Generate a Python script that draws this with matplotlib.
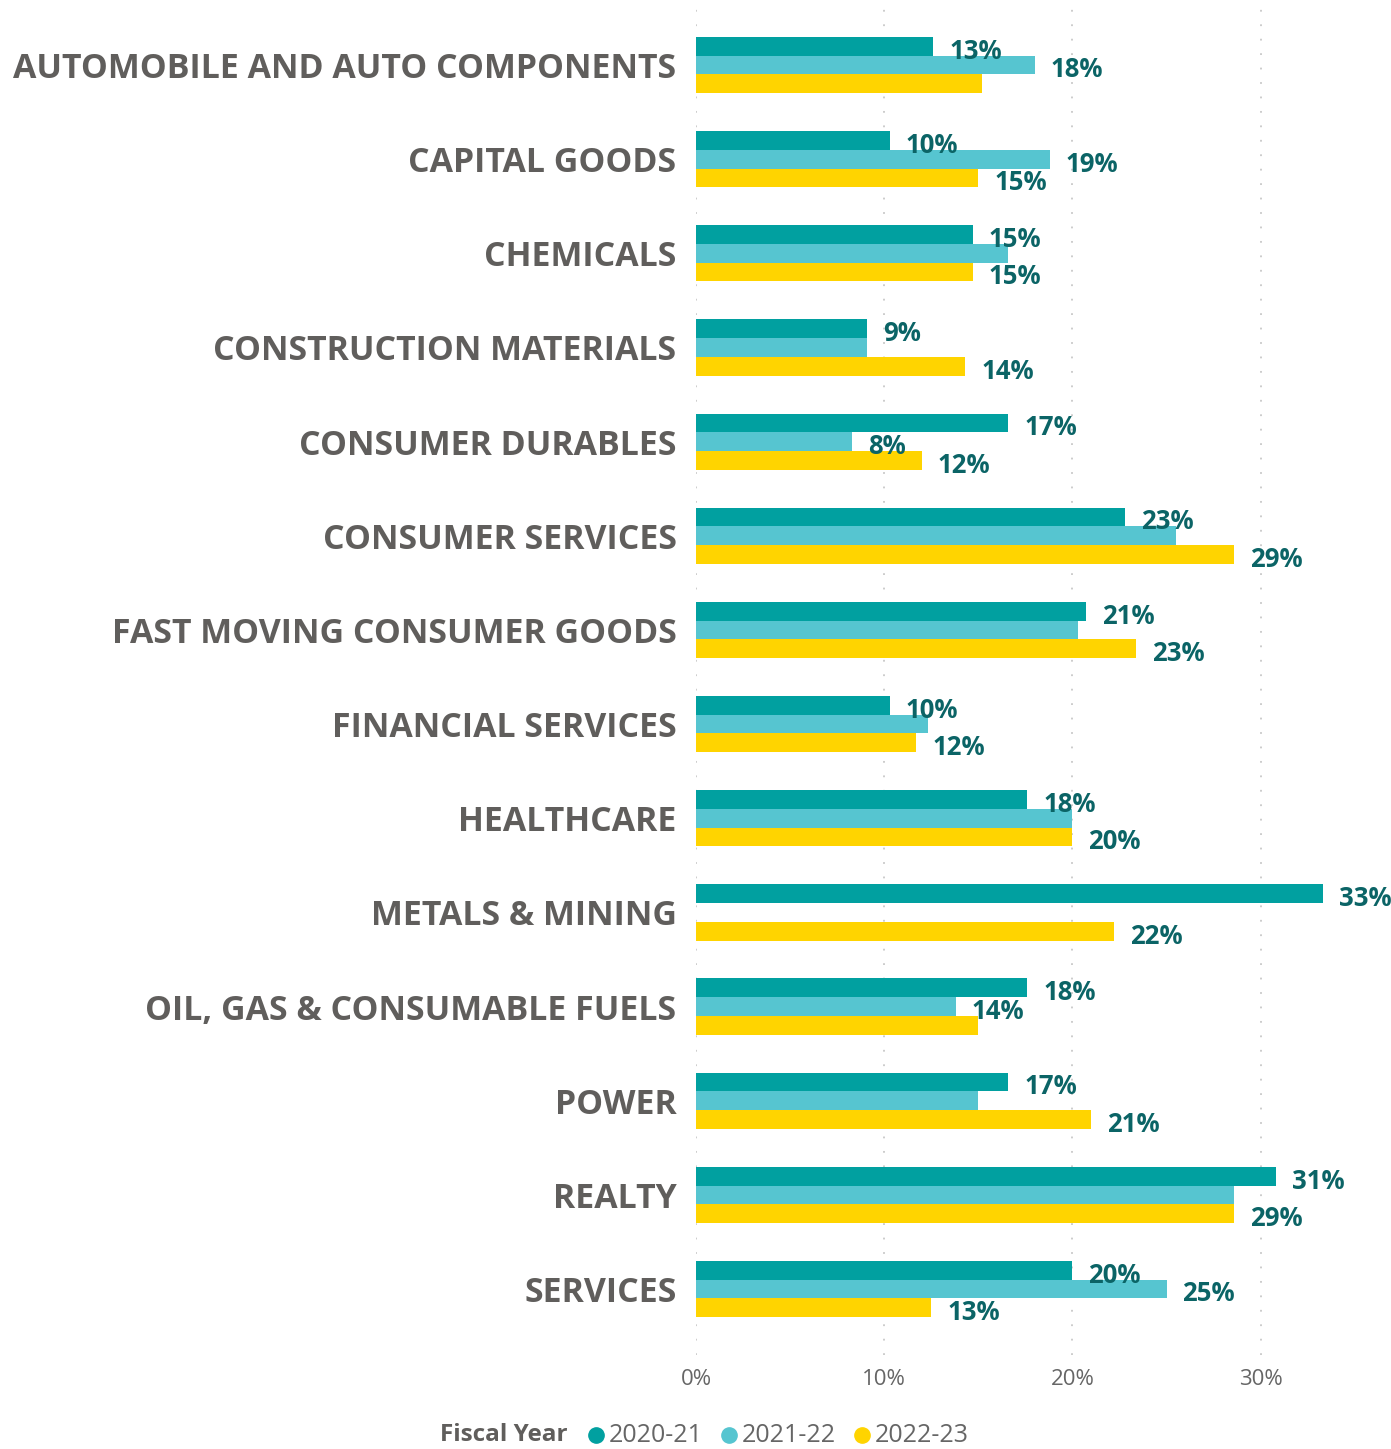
import matplotlib.pyplot as plt
from matplotlib.lines import Line2D
import matplotlib.ticker as mticker
import numpy as np

# ── Data ─────────────────────────────────────────────────────
sectors = [
    "AUTOMOBILE AND AUTO COMPONENTS", "CAPITAL GOODS", "CHEMICALS",
    "CONSTRUCTION MATERIALS", "CONSUMER DURABLES", "CONSUMER SERVICES",
    "FAST MOVING CONSUMER GOODS", "FINANCIAL SERVICES", "HEALTHCARE",
    "METALS & MINING", "OIL, GAS & CONSUMABLE FUELS", "POWER", "REALTY",
    "SERVICES",
]
years = ["2020-21", "2021-22", "2022-23"]

fy21 = [12.6, 10.3, 14.7, 9.1, 16.6, 22.8, 20.7, 10.3, 17.6, 33.3, 17.6, 16.6, 30.8, 20.0]
fy22 = [18.0, 18.8, 16.6, 9.1, 8.3, 25.5, 20.3, 12.3, 20.0, None, 13.8, 15.0, 28.6, 25.0]
fy23 = [15.2, 15.0, 14.7, 14.3, 12.0, 28.6, 23.4, 11.7, 20.0, 22.2, 15.0, 21.0, 28.6, 12.5]

# labels that stay visible (the rest collide with neighbours)
show21 = [1] * 14
show22 = [1, 1, 0, 0, 1, 0, 0, 0, 0, 0, 1, 0, 0, 1]
show23 = [0, 1, 1, 1, 1, 1, 1, 1, 1, 1, 0, 1, 1, 1]

series = [fy21, fy22, fy23]
shown = [show21, show22, show23]
colors = ["#01A0A0", "#56C5D0", "#FFD400"]
label_color = "#0B6466"
text_gray = "#605E5C"

plt.rcParams["font.family"] = ["Open Sans", "DejaVu Sans"]

fig = plt.figure(figsize=(13.91, 14.49), dpi=100)
ax = fig.add_axes([696 / 1391, 1 - 1355 / 1449, (1383 - 696) / 1391, 1350 / 1449])

y = np.arange(len(sectors))
h = 0.199
offsets = [-h, 0, h]

for vals, show, col, off in zip(series, shown, colors, offsets):
    for i, v in enumerate(vals):
        if v is None:
            continue
        ax.barh(y[i] + off, v, height=h, color=col, zorder=3)
        if show[i]:
            ax.annotate(f"{int(v + 0.5)}%", (v, y[i] + off),
                        xytext=(11.5, -3.5), textcoords="offset points",
                        ha="left", va="center", fontsize=18.5,
                        fontweight="bold", color=label_color, zorder=4,
                        annotation_clip=False)

ax.set_xlim(0, 36.5)
ax.set_ylim(13.70, -0.637)
ax.set_xticks([0, 10, 20, 30])
ax.xaxis.set_major_formatter(mticker.FuncFormatter(lambda v, _: f"{v:.0f}%"))
ax.set_yticks(y)
ax.set_yticklabels(sectors, fontsize=24.4, fontweight="bold", color=text_gray)
ax.tick_params(axis="y", length=0, pad=14)
ax.tick_params(axis="x", length=0, pad=10, labelsize=16, labelcolor="#666666")

for gx in [0, 10, 20, 30]:
    ax.axvline(gx, color="#C8C8C8", lw=1.3, ls=(0, (1, 7)), zorder=1)

for s in ax.spines.values():
    s.set_visible(False)

# ── Legend ───────────────────────────────────────────────────
leg_y = 1 - 1435 / 1449
fig.text(440 / 1391, leg_y, "Fiscal Year", fontsize=17.5,
         fontweight="bold", color=text_gray, ha="left", va="center")
for k, (yr, c) in enumerate(zip(years, colors)):
    x0 = (596 + 133 * k) / 1391
    fig.add_artist(Line2D([x0], [leg_y], transform=fig.transFigure,
                          marker="o", ls="none", markersize=11,
                          markerfacecolor=c, markeredgecolor=c))
    fig.text(x0 + 13 / 1391, leg_y, yr, fontsize=18, color="#666666",
             ha="left", va="center")

fig.savefig("out.png", dpi=100)
